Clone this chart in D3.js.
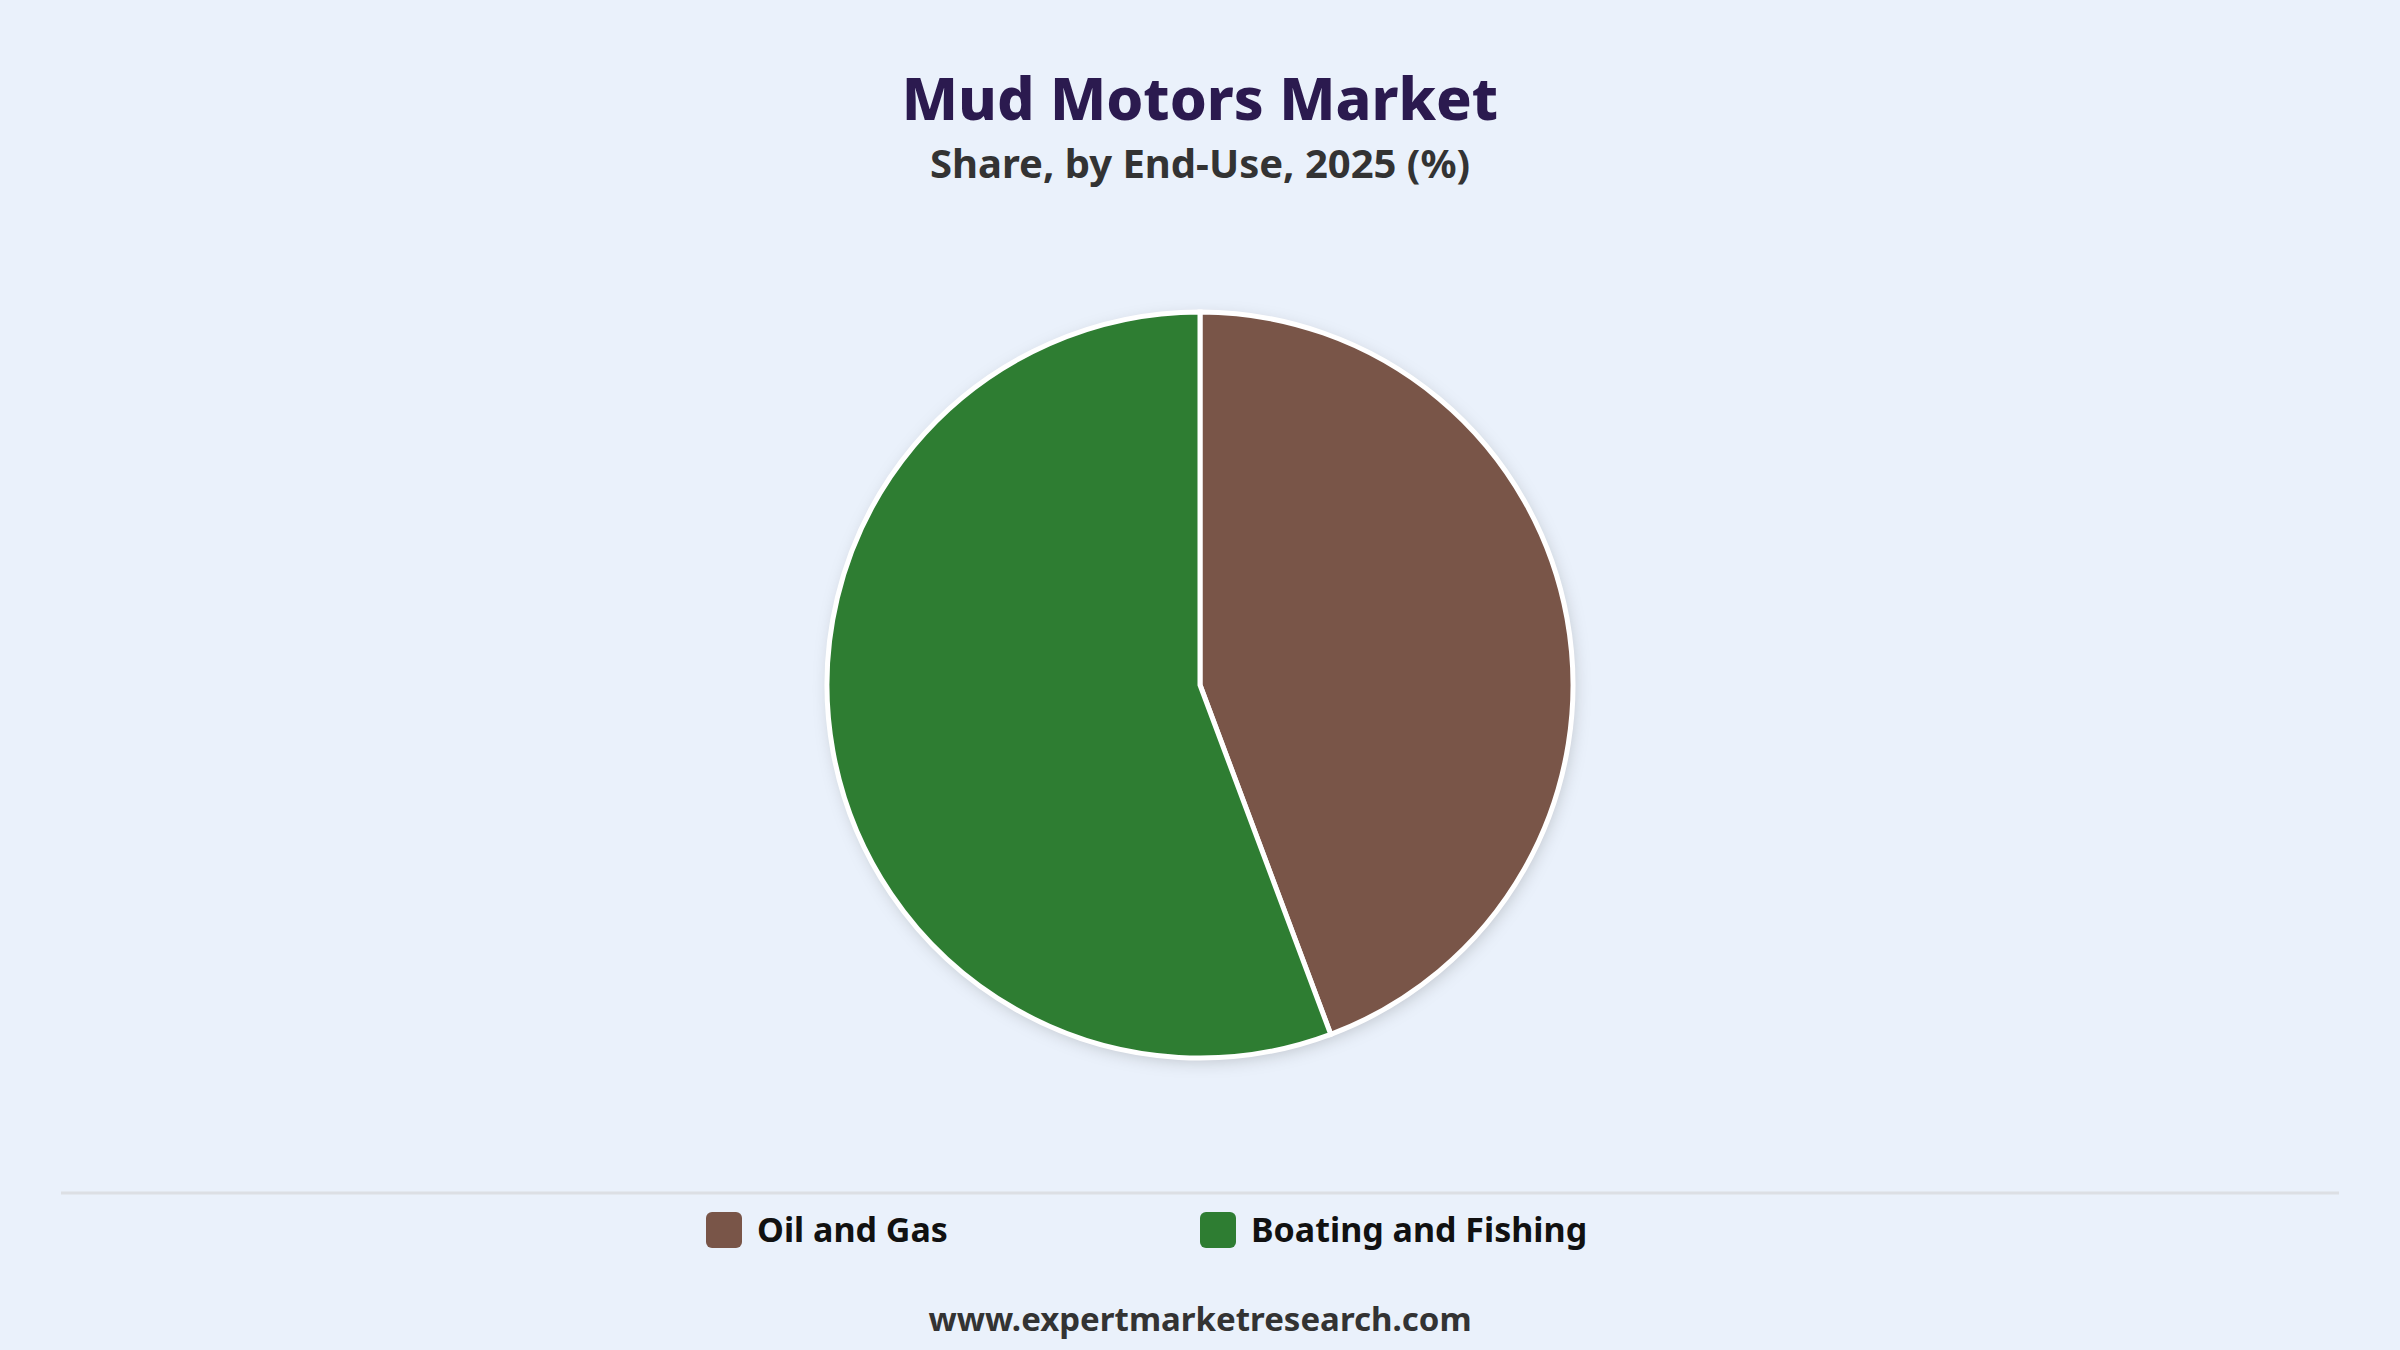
<!DOCTYPE html>
<head>
<meta charset="utf-8">
<title>Mud Motors Market - Share by End-Use</title>
<style>
    html, body {
        margin: 0;
        padding: 0;
        background: #eaf1fb;
    }

    svg {
        display: block;
        font-family: "Noto Sans", "Open Sans", sans-serif;
    }

    .title {
        fill: #2b1a4f;
        font-size: 59px;
        font-weight: 800;
        text-anchor: middle;
    }

    .subtitle {
        fill: #333333;
        font-size: 40px;
        font-weight: 700;
        text-anchor: middle;
    }

    .legend text {
        fill: #111111;
        font-size: 34px;
        font-weight: 700;
    }

    .source {
        fill: #333333;
        font-size: 33px;
        font-weight: 700;
        text-anchor: middle;
    }

    .divider {
        stroke: #dcdfe4;
        stroke-width: 3px;
    }

    .slice {
        stroke: #ffffff;
        stroke-width: 5px;
    }
</style>
</head>
<body>
<svg></svg>
<script src="https://cdn.jsdelivr.net/npm/d3@7"></script>
<script>

    // data
    var categories = ["Oil and Gas", "Boating and Fishing"];
    var shares = [44.3, 55.7];
    var colors = ["#795548", "#2e7d32"];

    var width = 2400,
        height = 1350;

    var svg = d3.select("svg")
        .attr("width", width)
        .attr("height", height);

    svg.append("rect")
        .attr("width", width)
        .attr("height", height)
        .attr("fill", "#eaf1fb");

    var defs = svg.append("defs");

    var shadow = defs.append("filter")
        .attr("id", "pie-shadow")
        .attr("x", "-20%")
        .attr("y", "-20%")
        .attr("width", "140%")
        .attr("height", "140%");

    shadow.append("feDropShadow")
        .attr("dx", 2)
        .attr("dy", 4)
        .attr("stdDeviation", 8)
        .attr("flood-color", "#000000")
        .attr("flood-opacity", 0.18);

    // titles
    svg.append("text")
        .attr("class", "title")
        .attr("x", width / 2)
        .attr("y", 120)
        .text("Mud Motors Market");

    svg.append("text")
        .attr("class", "subtitle")
        .attr("x", width / 2)
        .attr("y", 178)
        .text("Share, by End-Use, 2025 (%)");

    // pie
    var radius = 373;

    var data = categories.map(function (c, i) {
        return {key: c, value: shares[i], color: colors[i]};
    });

    var pie = d3.pie()
        .sort(null)
        .value(function (d) {
            return d.value;
        });

    var arc = d3.arc()
        .innerRadius(0)
        .outerRadius(radius);

    var g = svg.append("g")
        .attr("transform", "translate(" + width / 2 + "," + 685 + ")");

    g.append("circle")
        .attr("r", radius)
        .attr("fill", "#ffffff")
        .attr("filter", "url(#pie-shadow)");

    g.selectAll(".slice")
        .data(pie(data))
        .enter().append("path")
        .attr("class", "slice")
        .attr("fill", function (d) {
            return d.data.color;
        })
        .attr("d", arc);

    // divider
    svg.append("line")
        .attr("class", "divider")
        .attr("x1", 61)
        .attr("x2", width - 61)
        .attr("y1", 1193)
        .attr("y2", 1193);

    // legend
    var legendX = d3.scalePoint()
        .domain(categories)
        .range([706, 1200]);

    var legend = svg.selectAll(".legend")
        .data(data)
        .enter().append("g")
        .attr("class", "legend")
        .attr("transform", function (d) {
            return "translate(" + legendX(d.key) + ",1212)";
        });

    legend.append("rect")
        .attr("width", 36)
        .attr("height", 36)
        .attr("rx", 6)
        .attr("ry", 6)
        .attr("fill", function (d) {
            return d.color;
        });

    legend.append("text")
        .attr("x", 51)
        .attr("y", 30)
        .text(function (d) {
            return d.key;
        });

    // source
    svg.append("text")
        .attr("class", "source")
        .attr("x", width / 2)
        .attr("y", 1331)
        .text("www.expertmarketresearch.com");
</script>
</body>
